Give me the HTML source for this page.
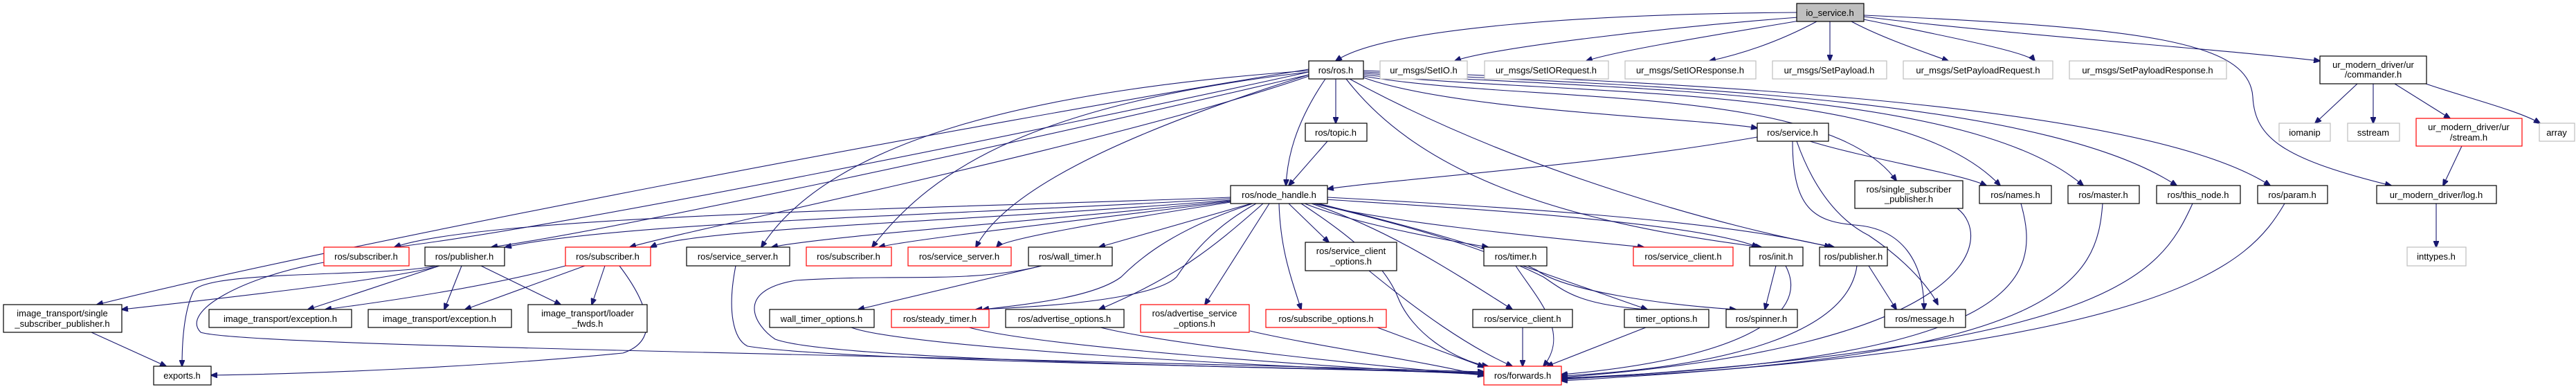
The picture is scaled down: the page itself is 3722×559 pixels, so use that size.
<!DOCTYPE html>
<html><head><meta charset="utf-8"><style>
html,body{margin:0;padding:0;background:#fff;}
svg{display:block;}
text{font-family:"Liberation Sans",sans-serif;font-size:13px;fill:#000;}
.e{fill:none;stroke:#191970;stroke-width:1.1;}
.b{fill:#fff;stroke:#000;stroke-width:1.2;}
.g{fill:#fff;stroke:#bfbfbf;stroke-width:1.2;}
.r{fill:#fff;stroke:#ff0000;stroke-width:1.2;}
</style></head><body>
<svg width="3722" height="559" viewBox="0 0 3722 559" xmlns="http://www.w3.org/2000/svg">
<defs><marker id="a" markerWidth="10" markerHeight="8" refX="9" refY="4" orient="auto" markerUnits="userSpaceOnUse"><path d="M0,0 L10,4 L0,8 z" fill="#191970" stroke="#191970"/></marker></defs>
<g class="e" marker-end="url(#a)">
<!-- io_service -->
<path d="M2596,18 C2300,20 2000,40 1930,88"/>
<path d="M2598,25 C2400,40 2150,70 2102,88"/>
<path d="M2606,29 C2450,55 2330,75 2292,88"/>
<path d="M2625,31 C2580,55 2530,75 2470,88"/>
<path d="M2644,31 L2644,88"/>
<path d="M2675,31 C2720,55 2780,75 2815,88"/>
<path d="M2693,28 C2800,50 2930,75 2940,88"/>
<path d="M2693,24 C2900,50 3200,70 3352,88"/>
<path d="M2693,22 C3100,40 3250,60 3255,140 C3258,200 3300,230 3455,268"/>
<!-- commander -->
<path d="M3406,121 L3345,178"/>
<path d="M3429,121 L3429,178"/>
<path d="M3460,121 L3540,171"/>
<path d="M3505,121 C3560,140 3640,160 3670,178"/>
<path d="M3557,211 L3530,268"/>
<path d="M3520,294 L3520,357"/>
<!-- ros.h -->
<path d="M1891,100 C1400,180 500,350 140,440"/>
<path d="M1891,104 C1500,190 800,330 570,357"/>
<path d="M1891,108 C1500,200 900,330 710,357"/>
<path d="M1891,110 C1600,210 1000,330 910,357"/>
<path d="M1891,102 C1500,130 1200,200 1100,357"/>
<path d="M1891,104 C1500,150 1350,240 1260,357"/>
<path d="M1891,108 C1600,200 1450,280 1410,357"/>
<path d="M1930,114 L1930,178"/>
<path d="M1915,114 C1870,180 1860,230 1858,268"/>
<path d="M1945,114 C2050,250 2250,320 2545,357"/>
<path d="M1950,114 C2200,250 2500,330 2650,357"/>
<path d="M1970,112 C2100,160 2450,170 2539,185"/>
<path d="M1970,110 C2200,150 2640,120 2740,261"/>
<path d="M1970,108 C2300,140 2750,120 2890,268"/>
<path d="M1970,106 C2350,130 2850,130 3010,268"/>
<path d="M1970,104 C2400,125 2950,140 3145,268"/>
<path d="M1970,102 C2450,120 3100,150 3280,268"/>
<!-- topic/service -->
<path d="M1918,204 L1862,268"/>
<path d="M2539,198 C2300,240 2000,260 1918,273"/>
<path d="M2615,204 C2700,230 2830,250 2870,268"/>
<path d="M2590,204 C2590,300 2620,320 2680,325 C2750,330 2780,380 2780,447"/>
<path d="M2596,204 C2630,300 2680,330 2700,340 C2760,380 2790,420 2800,440"/>
<!-- node_handle -->
<path d="M1778,285 C1400,300 700,310 570,357"/>
<path d="M1778,287 C1400,310 900,320 730,357"/>
<path d="M1778,289 C1400,320 1000,330 940,357"/>
<path d="M1778,290 C1500,320 1200,340 1115,357"/>
<path d="M1778,291 C1550,320 1320,345 1270,357"/>
<path d="M1778,292 C1600,320 1450,345 1440,357"/>
<path d="M1808,294 L1588,357"/>
<path d="M1810,294 C1700,330 1650,370 1620,400 C1580,430 1480,440 1420,447"/>
<path d="M1815,294 C1750,330 1720,370 1700,400 C1680,420 1600,440 1410,447"/>
<path d="M1825,294 C1750,360 1700,400 1588,447"/>
<path d="M1834,294 L1741,440"/>
<path d="M1848,294 C1850,360 1865,400 1880,447"/>
<path d="M1862,294 L1920,350"/>
<path d="M1885,294 C1950,320 2050,340 2150,357"/>
<path d="M1898,294 C2000,320 2200,340 2375,357"/>
<path d="M1915,288 C2100,300 2450,320 2540,357"/>
<path d="M1918,285 C2200,300 2500,320 2645,357"/>
<path d="M1895,294 C2000,330 2080,380 2185,447"/>
<path d="M1900,294 C2050,330 2150,360 2230,400 C2260,420 2280,440 2380,447"/>
<path d="M1905,294 C2050,330 2160,360 2220,390 C2260,420 2400,440 2508,447"/>
<path d="M1880,294 C1950,340 2000,380 2020,430 C2040,480 2100,520 2150,529"/>
<!-- row5 -->
<path d="M1978,391 C2050,450 2120,500 2185,529"/>
<path d="M2190,384 C2220,430 2270,480 2230,529"/>
<path d="M2200,384 L2380,447"/>
<path d="M2566,384 L2550,447"/>
<path d="M2580,384 C2620,460 2500,520 2256,541"/>
<path d="M2683,384 C2670,480 2500,530 2256,543"/>
<path d="M2700,384 L2740,447"/>
<path d="M2200,473 L2200,529"/>
<path d="M2378,473 L2235,529"/>
<path d="M2828,301 C2880,340 2870,500 2256,545"/>
<path d="M2920,294 C2950,400 2930,520 2256,546"/>
<path d="M3038,294 C3030,400 2990,520 2256,547"/>
<path d="M3168,294 C3120,400 3050,500 2256,548"/>
<path d="M3301,294 C3250,380 3150,500 2256,550"/>
<path d="M1063,384 C1050,450 1060,490 1080,500 C1200,520 1800,530 2144,538"/>
<path d="M1505,384 C1400,410 1300,395 1150,405 C1060,420 1090,470 1120,490 C1200,520 1800,530 2144,539"/>
<path d="M1505,384 L1240,447"/>
<path d="M1230,473 C1300,500 1800,530 2144,540"/>
<path d="M1400,473 C1500,500 1900,530 2144,541"/>
<path d="M1590,473 C1700,500 2000,530 2144,542"/>
<path d="M1806,478 C1900,500 2050,520 2144,543"/>
<path d="M1990,473 L2144,530"/>
<path d="M468,379 C350,400 260,450 290,480 C350,500 1200,510 2144,537"/>
<!-- left cluster -->
<path d="M635,384 C580,400 420,420 176,447"/>
<path d="M635,384 L445,447"/>
<path d="M667,384 L642,447"/>
<path d="M695,384 L810,440"/>
<path d="M630,384 C560,400 300,390 280,420 C265,450 263,500 263,529"/>
<path d="M817,384 C720,410 600,430 470,447"/>
<path d="M845,384 L672,447"/>
<path d="M874,384 L855,440"/>
<path d="M895,384 C930,430 960,490 900,510 C700,530 450,540 305,542"/>
<path d="M132,480 L240,529"/>
</g>
<!-- nodes -->
<g>
<rect class="b" x="2596" y="5" width="97" height="26" style="fill:#bfbfbf"/><text x="2644" y="23" text-anchor="middle">io_service.h</text>
<rect class="b" x="1891" y="88" width="79" height="26"/><text x="1930" y="106" text-anchor="middle">ros/ros.h</text>
<rect class="g" x="1994" y="88" width="126" height="26"/><text x="2057" y="106" text-anchor="middle">ur_msgs/SetIO.h</text>
<rect class="g" x="2145" y="88" width="179" height="26"/><text x="2234" y="106" text-anchor="middle">ur_msgs/SetIORequest.h</text>
<rect class="g" x="2348" y="88" width="189" height="26"/><text x="2442" y="106" text-anchor="middle">ur_msgs/SetIOResponse.h</text>
<rect class="g" x="2561" y="88" width="165" height="26"/><text x="2643" y="106" text-anchor="middle">ur_msgs/SetPayload.h</text>
<rect class="g" x="2750" y="88" width="216" height="26"/><text x="2858" y="106" text-anchor="middle">ur_msgs/SetPayloadRequest.h</text>
<rect class="g" x="2990" y="88" width="227" height="26"/><text x="3103" y="106" text-anchor="middle">ur_msgs/SetPayloadResponse.h</text>
<rect class="b" x="3352" y="81" width="154" height="40"/><text x="3429" y="98" text-anchor="middle">ur_modern_driver/ur</text><text x="3429" y="112" text-anchor="middle">/commander.h</text>
<rect class="b" x="1886" y="178" width="89" height="26"/><text x="1930" y="196" text-anchor="middle">ros/topic.h</text>
<rect class="b" x="2539" y="178" width="103" height="26"/><text x="2590" y="196" text-anchor="middle">ros/service.h</text>
<rect class="g" x="3293" y="178" width="74" height="26"/><text x="3330" y="196" text-anchor="middle">iomanip</text>
<rect class="g" x="3392" y="178" width="75" height="26"/><text x="3429" y="196" text-anchor="middle">sstream</text>
<rect class="r" x="3491" y="171" width="153" height="40"/><text x="3567" y="188" text-anchor="middle">ur_modern_driver/ur</text><text x="3567" y="203" text-anchor="middle">/stream.h</text>
<rect class="g" x="3669" y="178" width="51" height="26"/><text x="3694" y="196" text-anchor="middle">array</text>
<rect class="b" x="1778" y="268" width="140" height="26"/><text x="1848" y="286" text-anchor="middle">ros/node_handle.h</text>
<rect class="b" x="2680" y="261" width="156" height="40"/><text x="2758" y="278" text-anchor="middle">ros/single_subscriber</text><text x="2758" y="292" text-anchor="middle">_publisher.h</text>
<rect class="b" x="2860" y="268" width="104" height="26"/><text x="2912" y="286" text-anchor="middle">ros/names.h</text>
<rect class="b" x="2988" y="268" width="103" height="26"/><text x="3039" y="286" text-anchor="middle">ros/master.h</text>
<rect class="b" x="3116" y="268" width="121" height="26"/><text x="3176" y="286" text-anchor="middle">ros/this_node.h</text>
<rect class="b" x="3262" y="268" width="101" height="26"/><text x="3312" y="286" text-anchor="middle">ros/param.h</text>
<rect class="b" x="3434" y="268" width="173" height="26"/><text x="3520" y="286" text-anchor="middle">ur_modern_driver/log.h</text>
<rect class="r" x="468" y="357" width="123" height="27"/><text x="529" y="375" text-anchor="middle">ros/subscriber.h</text>
<rect class="b" x="614" y="357" width="115" height="27"/><text x="671" y="375" text-anchor="middle">ros/publisher.h</text>
<rect class="r" x="817" y="357" width="123" height="27"/><text x="878" y="375" text-anchor="middle">ros/subscriber.h</text>
<rect class="b" x="992" y="357" width="149" height="27"/><text x="1066" y="375" text-anchor="middle">ros/service_server.h</text>
<rect class="r" x="1165" y="357" width="123" height="27"/><text x="1226" y="375" text-anchor="middle">ros/subscriber.h</text>
<rect class="r" x="1312" y="357" width="149" height="27"/><text x="1386" y="375" text-anchor="middle">ros/service_server.h</text>
<rect class="b" x="1486" y="357" width="121" height="27"/><text x="1546" y="375" text-anchor="middle">ros/wall_timer.h</text>
<rect class="b" x="1886" y="350" width="132" height="41"/><text x="1952" y="367" text-anchor="middle">ros/service_client</text><text x="1952" y="382" text-anchor="middle">_options.h</text>
<rect class="b" x="2144" y="357" width="91" height="27"/><text x="2190" y="375" text-anchor="middle">ros/timer.h</text>
<rect class="r" x="2360" y="357" width="144" height="27"/><text x="2432" y="375" text-anchor="middle">ros/service_client.h</text>
<rect class="b" x="2528" y="357" width="77" height="27"/><text x="2566" y="375" text-anchor="middle">ros/init.h</text>
<rect class="b" x="2629" y="357" width="98" height="27"/><text x="2678" y="375" text-anchor="middle">ros/publisher.h</text>
<rect class="g" x="3478" y="357" width="85" height="27"/><text x="3520" y="375" text-anchor="middle">inttypes.h</text>
<rect class="b" x="5" y="440" width="171" height="40"/><text x="90" y="457" text-anchor="middle">image_transport/single</text><text x="90" y="472" text-anchor="middle">_subscriber_publisher.h</text>
<rect class="b" x="302" y="447" width="206" height="26"/><text x="405" y="465" text-anchor="middle">image_transport/exception.h</text>
<rect class="b" x="532" y="447" width="207" height="26"/><text x="635" y="465" text-anchor="middle">image_transport/exception.h</text>
<rect class="b" x="763" y="440" width="172" height="40"/><text x="849" y="457" text-anchor="middle">image_transport/loader</text><text x="849" y="472" text-anchor="middle">_fwds.h</text>
<rect class="b" x="1112" y="447" width="151" height="26"/><text x="1187" y="465" text-anchor="middle">wall_timer_options.h</text>
<rect class="r" x="1288" y="447" width="141" height="26"/><text x="1358" y="465" text-anchor="middle">ros/steady_timer.h</text>
<rect class="b" x="1453" y="447" width="171" height="26"/><text x="1538" y="465" text-anchor="middle">ros/advertise_options.h</text>
<rect class="r" x="1648" y="440" width="157" height="40"/><text x="1726" y="457" text-anchor="middle">ros/advertise_service</text><text x="1726" y="472" text-anchor="middle">_options.h</text>
<rect class="r" x="1829" y="447" width="174" height="26"/><text x="1916" y="465" text-anchor="middle">ros/subscribe_options.h</text>
<rect class="b" x="2128" y="447" width="144" height="26"/><text x="2200" y="465" text-anchor="middle">ros/service_client.h</text>
<rect class="b" x="2347" y="447" width="122" height="26"/><text x="2408" y="465" text-anchor="middle">timer_options.h</text>
<rect class="b" x="2494" y="447" width="103" height="26"/><text x="2545" y="465" text-anchor="middle">ros/spinner.h</text>
<rect class="b" x="2723" y="447" width="117" height="26"/><text x="2781" y="465" text-anchor="middle">ros/message.h</text>
<rect class="b" x="222" y="529" width="83" height="27"/><text x="263" y="547" text-anchor="middle">exports.h</text>
<rect class="r" x="2144" y="529" width="112" height="27"/><text x="2200" y="547" text-anchor="middle">ros/forwards.h</text>
</g>
</svg>
</body></html>
